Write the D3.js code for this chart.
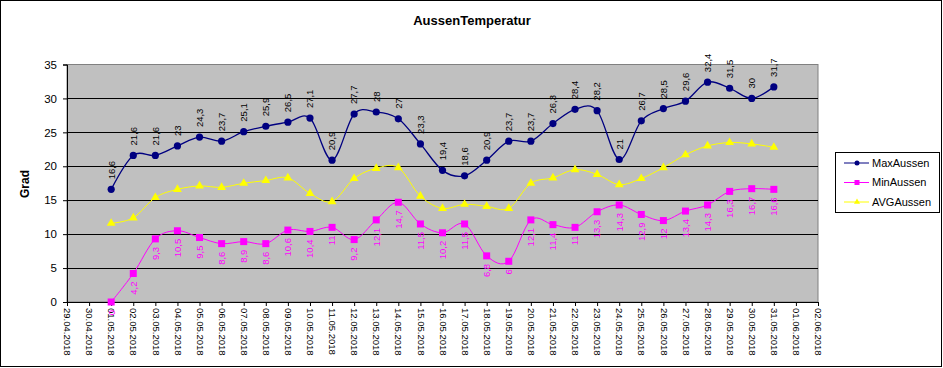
<!DOCTYPE html>
<html><head><meta charset="utf-8">
<script src="https://cdn.jsdelivr.net/npm/d3@7"></script>
<style>
body{margin:0;background:#fff;}
svg{display:block;font-family:"Liberation Sans",Arial,sans-serif;}
</style></head>
<body>
<svg id="chart" width="943" height="368"></svg>
<script>
// ---- data ----
const axisDates = ["29.04.2018","30.04.2018","01.05.2018","02.05.2018","03.05.2018","04.05.2018","05.05.2018","06.05.2018","07.05.2018","08.05.2018","09.05.2018","10.05.2018","11.05.2018","12.05.2018","13.05.2018","14.05.2018","15.05.2018","16.05.2018","17.05.2018","18.05.2018","19.05.2018","20.05.2018","21.05.2018","22.05.2018","23.05.2018","24.05.2018","25.05.2018","26.05.2018","27.05.2018","28.05.2018","29.05.2018","30.05.2018","31.05.2018","01.06.2018","02.06.2018"];
const dataDates = ["01.05.2018","02.05.2018","03.05.2018","04.05.2018","05.05.2018","06.05.2018","07.05.2018","08.05.2018","09.05.2018","10.05.2018","11.05.2018","12.05.2018","13.05.2018","14.05.2018","15.05.2018","16.05.2018","17.05.2018","18.05.2018","19.05.2018","20.05.2018","21.05.2018","22.05.2018","23.05.2018","24.05.2018","25.05.2018","26.05.2018","27.05.2018","28.05.2018","29.05.2018","30.05.2018","31.05.2018"];
const maxAussen = [16.6,21.6,21.6,23,24.3,23.7,25.1,25.9,26.5,27.1,20.9,27.7,28,27,23.3,19.4,18.6,20.9,23.7,23.7,26.3,28.4,28.2,21,26.7,28.5,29.6,32.4,31.5,30,31.7];
const minAussen = [0,4.2,9.3,10.5,9.5,8.6,8.9,8.6,10.6,10.4,11,9.2,12.1,14.7,11.5,10.2,11.5,6.8,6,12.1,11.4,11,13.3,14.3,12.9,12,13.4,14.3,16.3,16.7,16.6];
const avgAussen = [11.6,12.4,15.4,16.6,17.1,16.9,17.5,17.9,18.3,16.0,14.8,18.2,19.7,19.8,15.6,13.8,14.4,14.1,13.8,17.5,18.3,19.5,18.8,17.3,18.2,19.8,21.7,23.0,23.5,23.3,22.8];
const yTicks = [0,5,10,15,20,25,30,35];
const seriesNames = ["MaxAussen","MinAussen","AVGAussen"];

const svg = d3.select("#chart");
const L = 67, R = 818, T = 64.5, B = 302;

const x = d3.scalePoint().domain(axisDates).range([L, R]);
const y = d3.scaleLinear().domain([0, 35]).range([B, T]);

// outer border
svg.append("rect").attr("x",0.5).attr("y",0.5).attr("width",941).attr("height",366)
  .attr("fill","#fff").attr("stroke","#000").attr("stroke-width",1);

// plot area
svg.append("rect").attr("x",L).attr("y",T).attr("width",R-L).attr("height",B-T)
  .attr("fill","#c0c0c0").attr("stroke","#808080");

// gridlines
svg.append("g").selectAll("line").data(yTicks.filter(d=>d>0 && d<35)).join("line")
  .attr("x1",L).attr("x2",R).attr("y1",d=>Math.round(y(d))+0.5).attr("y2",d=>Math.round(y(d))+0.5)
  .attr("stroke","#000");

// y axis
const yAxis = svg.append("g").attr("transform",`translate(${L},0)`)
  .call(d3.axisLeft(y).tickValues(yTicks).tickSize(4).tickPadding(6).tickFormat(d3.format("d")));
yAxis.select(".domain").attr("stroke","#000");
yAxis.selectAll("text").attr("font-size","11.5px").attr("fill","#000").attr("font-family","'Liberation Sans',Arial,sans-serif");

// x axis
const xAxis = svg.append("g").attr("transform",`translate(0,${B})`)
  .call(d3.axisBottom(x).tickSize(4).tickPadding(0));
xAxis.select(".domain").attr("stroke","#000");
xAxis.selectAll("text")
  .attr("font-size","9.5px").attr("fill","#000").attr("font-family","'Liberation Sans',Arial,sans-serif")
  .attr("text-anchor","start").attr("transform","rotate(90)")
  .attr("x",6).attr("y",0).attr("dy","0.35em");

// title
svg.append("text").attr("x",472).attr("y",25).attr("text-anchor","middle")
  .attr("font-weight","bold").attr("font-size","13px").text("AussenTemperatur");

// y title
svg.append("text").attr("transform","translate(29,184) rotate(-90)").attr("text-anchor","middle")
  .attr("font-weight","bold").attr("font-size","12px").text("Grad");

const curve = d3.curveCardinal.tension(0);
function drawLine(vals, color, w){
  const line = d3.line().x((d,i)=>x(dataDates[i])).y(d=>y(d)).curve(curve);
  svg.append("path").datum(vals).attr("d",line).attr("fill","none").attr("stroke",color).attr("stroke-width",w);
}
drawLine(avgAussen, "#ffff00", 1);
drawLine(minAussen, "#ff00ff", 1);
drawLine(maxAussen, "#000080", 1.3);

const tri = d3.symbol().type(d3.symbolTriangle).size(34);
svg.append("g").selectAll("path").data(avgAussen).join("path")
  .attr("d",tri).attr("transform",(d,i)=>`translate(${x(dataDates[i])},${y(d)})`).attr("fill","#ffff00");
svg.append("g").selectAll("rect").data(minAussen).join("rect")
  .attr("x",(d,i)=>x(dataDates[i])-3.5).attr("y",d=>y(d)-3.5).attr("width",7).attr("height",7).attr("fill","#ff00ff");
svg.append("g").selectAll("circle").data(maxAussen).join("circle")
  .attr("cx",(d,i)=>x(dataDates[i])).attr("cy",d=>y(d)).attr("r",3.6).attr("fill","#000080");

const fmt = v => String(v).replace(".", ",");
// max labels
svg.append("g").selectAll("text").data(maxAussen).join("text")
  .attr("transform",(d,i)=>`translate(${x(dataDates[i])},${y(d)-10}) rotate(-90)`)
  .attr("dy","0.35em").attr("text-anchor","start").attr("font-size","9.5px").attr("fill","#000")
  .text(fmt);
// min labels
svg.append("g").selectAll("text").data(minAussen).join("text")
  .attr("transform",(d,i)=>`translate(${x(dataDates[i])},${y(d)+8}) rotate(-90)`)
  .attr("dy","0.35em").attr("text-anchor","end").attr("font-size","9.5px").attr("fill","#ff00ff")
  .text(fmt);

// legend
const lg = svg.append("g");
lg.append("rect").attr("x",835.5).attr("y",152.5).attr("width",104).attr("height",60)
  .attr("fill","#fff").attr("stroke","#000");
const legColors = ["#000080","#ff00ff","#ffff00"];
seriesNames.forEach((name,i)=>{
  const cy = 163 + i*19.5;
  lg.append("line").attr("x1",844).attr("x2",869).attr("y1",cy).attr("y2",cy).attr("stroke",legColors[i]);
  if(i===0) lg.append("circle").attr("cx",857).attr("cy",cy).attr("r",2.5).attr("fill",legColors[i]);
  if(i===1) lg.append("rect").attr("x",854.5).attr("y",cy-2.5).attr("width",5).attr("height",5).attr("fill",legColors[i]);
  if(i===2) lg.append("path").attr("d",d3.symbol().type(d3.symbolTriangle).size(16)).attr("transform",`translate(857,${cy})`).attr("fill",legColors[i]);
  lg.append("text").attr("x",872).attr("y",cy).attr("dy","0.35em").attr("font-size","11px").text(name);
});
</script>
</body></html>
